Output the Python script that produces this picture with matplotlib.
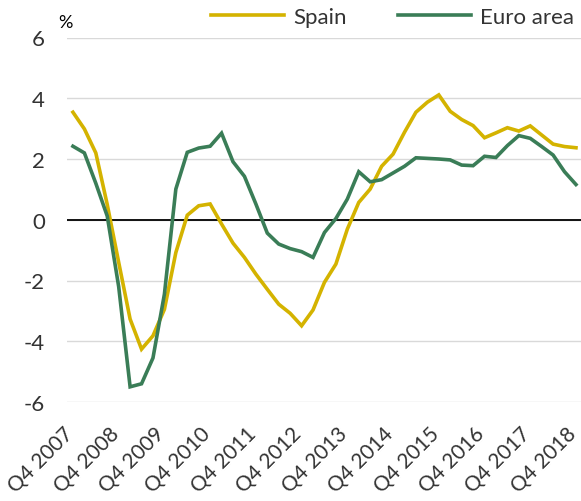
import matplotlib
matplotlib.use("Agg")
import matplotlib.pyplot as plt
import matplotlib.transforms as mtransforms
import numpy as np

plt.rcParams["font.family"] = ["Lato", "DejaVu Sans"]

# quarterly, Q4 2007 .. Q4 2018
years = list(range(2007, 2019))
tick_labels = [f"Q4 {y}" for y in years]

spain = [3.54, 2.99, 2.20, 0.50, -1.40, -3.27, -4.26, -3.82, -2.95, -1.08,
         0.15, 0.46, 0.52, -0.14, -0.77, -1.24, -1.79, -2.29, -2.78, -3.08,
         -3.49, -2.97, -2.06, -1.46, -0.31, 0.57, 1.01, 1.76, 2.16, 2.88,
         3.54, 3.87, 4.11, 3.57, 3.30, 3.10, 2.70, 2.86, 3.03, 2.92,
         3.09, 2.79, 2.49, 2.41, 2.37]
euro = [2.42, 2.20, 1.20, 0.12, -2.20, -5.50, -5.40, -4.55, -2.45, 1.01,
        2.22, 2.36, 2.42, 2.85, 1.91, 1.43, 0.52, -0.44, -0.80, -0.95,
        -1.05, -1.24, -0.42, 0.04, 0.68, 1.58, 1.25, 1.32, 1.54, 1.76,
        2.04, 2.02, 2.00, 1.97, 1.80, 1.78, 2.09, 2.05, 2.44, 2.77,
        2.68, 2.41, 2.13, 1.58, 1.16]

SPAIN_C = "#D4B300"
EURO_C = "#3A7D57"
TXT = "#333333"

fig = plt.figure(figsize=(5.81, 5.02), dpi=100)
ax = fig.add_axes([67 / 581, 1 - 403 / 502, 514 / 581, (403 - 38.5) / 502])

x = np.arange(len(spain))
ax.plot(x, spain, color=SPAIN_C, lw=2.6, label="Spain", solid_joinstyle="miter")
ax.plot(x, euro, color=EURO_C, lw=2.6, label="Euro area", solid_joinstyle="miter")
ax.axhline(0, color="black", lw=1.3, zorder=1.5)

ax.set_ylim(-6, 6)
ax.set_xlim(-0.52, 44.44)
ax.set_yticks([-6, -4, -2, 0, 2, 4, 6])
ax.set_yticklabels(["-6", "-4", "-2", "0", "2", "4", "6"])
ax.grid(axis="y", color="#D9D9D9", lw=1.0)
ax.set_axisbelow(True)
for s in ax.spines.values():
    s.set_visible(False)

ax.set_xticks(np.arange(0, len(spain), 4))
ax.set_xticklabels(tick_labels, rotation=45, ha="right", va="top")
ax.tick_params(axis="y", length=0, labelsize=16, colors=TXT, pad=16)
ax.tick_params(axis="x", length=0, labelsize=15, colors=TXT, pad=13)

# nudge rotated labels so their top-right corner sits at the tick
shift = mtransforms.ScaledTranslation(4 / 100, -3 / 100, fig.dpi_scale_trans)
for lab in ax.get_xticklabels():
    lab.set_transform(lab.get_transform() + shift)

fig.text(58 / 581, 1 - 23 / 502, "%", fontsize=13, color="black", va="center", ha="left")

fig.legend(loc="center right", bbox_to_anchor=(574 / 581, 1 - 18 / 502),
           bbox_transform=fig.transFigure, ncol=2, frameon=False,
           fontsize=16, handlelength=3.3, handletextpad=0.4,
           columnspacing=2.3, borderpad=0, borderaxespad=0, labelcolor=TXT)

fig.savefig("out.png", dpi=100)
